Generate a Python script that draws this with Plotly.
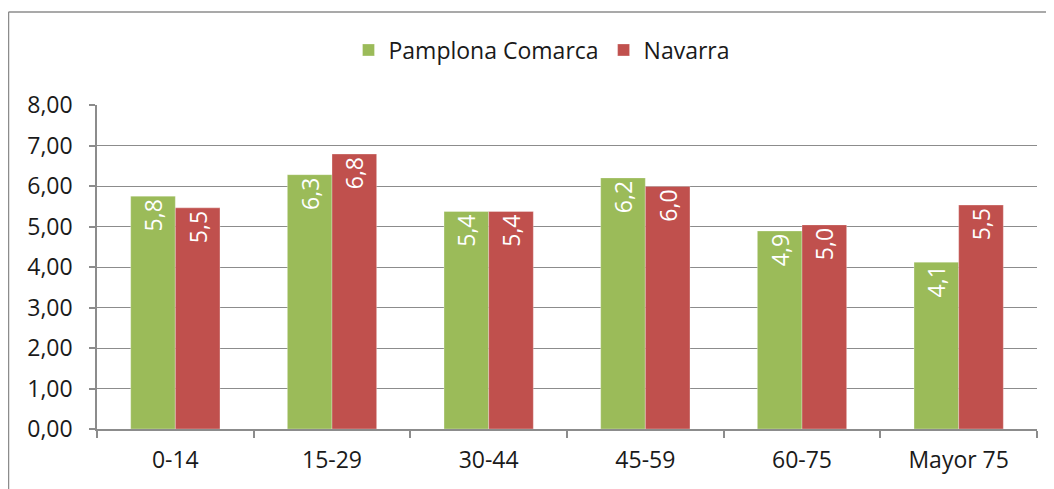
import plotly.graph_objects as go

categories = ["0-14", "15-29", "30-44", "45-59", "60-75", "Mayor 75"]
pamplona = [5.75, 6.28, 5.37, 6.20, 4.89, 4.12]
navarra = [5.46, 6.79, 5.37, 5.99, 5.04, 5.53]
yticks = [0, 1, 2, 3, 4, 5, 6, 7, 8]

FONT = "Open Sans"
GREEN = "#9BBB59"
RED = "#C0504D"
GRID = "#8C8C8C"
FS = 23

fig = go.Figure()
for name, vals, col in [("Pamplona Comarca", pamplona, GREEN), ("Navarra", navarra, RED)]:
    fig.add_trace(go.Bar(
        x=categories, y=vals, name=name,
        marker=dict(color=col, line=dict(color="rgba(255,255,255,0.6)", width=0.5)),
        texttemplate="%{y:.1f}", textposition="inside", insidetextanchor="end",
        textangle=-90, textfont=dict(color="white", size=FS, family=FONT),
        constraintext="none", cliponaxis=False,
    ))

# page body has an 8px margin: figure origin is at page (8, 8)
OFF = 8
W, H = 1054 - OFF, 489 - OFF
L, T = 97 - OFF, 105 - OFF
R = W - (1037 - OFF)
B = H - (429 - OFF)
pw, ph = W - L - R, H - T - B

def px_x(x):
    return (x - OFF - L) / pw

def px_y(y):
    return 1 - (y - OFF - T) / ph

fig.update_layout(
    width=W, height=H,
    margin=dict(l=L, r=R, t=T, b=B, pad=0),
    paper_bgcolor="white", plot_bgcolor="white",
    separators=",.",
    barmode="group", bargap=0.43, bargroupgap=0,
    font=dict(family=FONT, size=FS, color="#1a1a1a"),
    showlegend=True,
    legend=dict(orientation="h", x=px_x(542), xanchor="center",
                y=px_y(50), yanchor="middle",
                font=dict(size=FS, family=FONT), itemwidth=30,
                traceorder="normal"),
    xaxis=dict(type="category", showline=True, linecolor=GRID, linewidth=1.5,
               ticks="outside", tickson="boundaries", ticklen=7, tickcolor=GRID,
               tickwidth=1.5, showgrid=False, ticklabelstandoff=10),
    yaxis=dict(range=[0, 8], tickvals=yticks, tickformat=".2f",
               showline=True, linecolor=GRID, linewidth=1.5,
               ticks="outside", ticklen=6, tickcolor=GRID, tickwidth=1.5,
               showgrid=True, gridcolor=GRID, gridwidth=1.2,
               zeroline=False, ticklabelstandoff=12),
    shapes=[
        dict(type="line", xref="paper", yref="paper",
             x0=px_x(8.5), x1=px_x(8.5), y0=px_y(12), y1=px_y(500),
             line=dict(color="#8C8C8C", width=1.5)),
        dict(type="line", xref="paper", yref="paper",
             x0=px_x(8.5), x1=px_x(1070), y0=px_y(12), y1=px_y(12),
             line=dict(color="#8C8C8C", width=1.5)),
    ],
)

fig.write_html("out.html")
